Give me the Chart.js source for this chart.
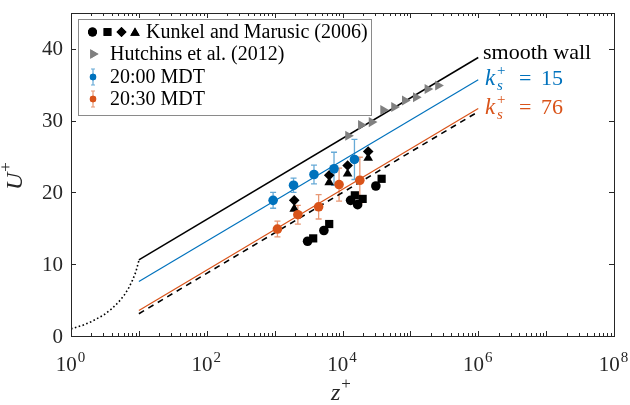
<!DOCTYPE html>
<html>
<head>
<meta charset="utf-8">
<script src="https://cdn.jsdelivr.net/npm/chart.js"></script>
<style>
  html, body { margin: 0; padding: 0; background: #fff; }
  canvas { display: block; }
</style>
</head>
<body>
<canvas id="profile" width="630" height="405"></canvas>
<script>
// log-law reference lines (z+ endpoints, U+ values)
const zLog = [10, 1e6];
const uSmooth = [10.6, 38.8];
const uKs15 = [7.6, 35.7];
const uKs76 = [3.55, 31.7];
const uDashed = [3.1, 31.25];

// viscous / buffer region (dotted)
const zVisc = [1, 1.5, 2, 3, 4, 5, 6, 7, 8, 9, 10];
const uVisc = [1.0, 1.5, 2.0, 2.9, 3.8, 4.7, 5.6, 6.6, 7.7, 8.9, 10.5];

// field data with error bars
const zBlue = [950, 1900, 3800, 7500, 15000];
const uBlue = [18.9, 21.0, 22.5, 23.3, 24.6];
const eBlue = [1.1, 1.0, 1.3, 2.3, 2.8];
const zOrange = [1100, 2200, 4450, 8900, 18000];
const uOrange = [14.9, 16.9, 18.0, 21.1, 21.7];
const eOrange = [1.1, 1.3, 1.7, 2.3, 3.2];

// Kunkel and Marusic (2006)
const zKmCirc = [3060, 5320, 13150, 16700, 31000];
const uKmCirc = [13.2, 14.7, 18.9, 18.3, 20.9];
const zKmSq = [3700, 6370, 15200, 19800, 37700];
const uKmSq = [13.6, 15.6, 19.6, 19.1, 21.9];
const zKmDia = [1945, 6370, 11900, 23900];
const uKmDia = [18.9, 22.4, 23.75, 25.7];
const zKmTri = [1945, 6370, 11900, 23900];
const uKmTri = [17.7, 21.4, 22.6, 24.8];

// Hutchins et al. (2012)
const zHut = [12100, 18700, 26900, 39800, 57700, 83000, 120500, 179000, 256000];
const uHut = [27.9, 29.4, 29.8, 31.5, 31.9, 32.8, 33.25, 34.4, 34.9];

const xTickExp = [0, 2, 4, 6, 8];
const yTicks = [0, 10, 20, 30, 40];

const BLUE = '#0072BD';
const ORANGE = '#D95319';
const AXIS = '#262626';
const SERIF = '"Liberation Serif", "Times New Roman", serif';

function pts(xs, ys) {
    return xs.map((x, i) => ({ x: x, y: ys[i] }));
}

function lineSet(xs, ys, color, width, dash) {
    return {
        data: pts(xs, ys), showLine: true, borderColor: color, borderWidth: width,
        borderDash: dash || [], pointRadius: 0, fill: false
    };
}

function markSet(xs, ys, style, color, r, rot) {
    return {
        data: pts(xs, ys), showLine: false, pointStyle: style, pointRadius: r,
        pointRotation: rot || 0, backgroundColor: color, borderColor: color, borderWidth: 0
    };
}

// error bars, drawn under the markers
const errorBars = {
    id: 'errorBars',
    beforeDatasetsDraw(chart) {
        const c = chart.ctx, xs = chart.scales.x, ys = chart.scales.y;
        const groups = [[zBlue, uBlue, eBlue, 'rgba(0,114,189,0.6)'],
                        [zOrange, uOrange, eOrange, 'rgba(217,83,25,0.6)']];
        c.save();
        c.lineWidth = 1.3;
        groups.forEach(g => {
            c.strokeStyle = g[3];
            g[0].forEach((z, i) => {
                const px = xs.getPixelForValue(z);
                const top = ys.getPixelForValue(g[1][i] + g[2][i]);
                const bot = ys.getPixelForValue(g[1][i] - g[2][i]);
                c.beginPath();
                c.moveTo(px, top); c.lineTo(px, bot);
                c.moveTo(px - 3, top); c.lineTo(px + 3, top);
                c.moveTo(px - 3, bot); c.lineTo(px + 3, bot);
                c.stroke();
            });
        });
        c.restore();
    }
};

function supText(c, base, sup, x, y, size, italic) {
    c.font = (italic ? 'italic ' : '') + size + 'px ' + SERIF;
    c.textAlign = 'left';
    c.textBaseline = 'alphabetic';
    c.fillText(base, x, y);
    const w = c.measureText(base).width;
    c.font = Math.round(size * 0.7) + 'px ' + SERIF;
    c.fillText(sup, x + w + 1, y - size * 0.45);
}

// frame, ticks, labels, legend, annotations
const decor = {
    id: 'decor',
    afterDraw(chart) {
        const c = chart.ctx, xs = chart.scales.x, ys = chart.scales.y;
        const a = chart.chartArea;
        c.save();
        c.strokeStyle = AXIS;
        c.fillStyle = AXIS;
        c.lineWidth = 1;

        // ticks
        c.beginPath();
        for (let k = 0; k <= 8; k++) {
            for (let m = 1; m <= 9; m++) {
                const v = m * Math.pow(10, k);
                if (v > 1e8) break;
                const px = Math.round(xs.getPixelForValue(v)) + 0.5;
                const len = m === 1 ? 5 : 3;
                c.moveTo(px, a.bottom); c.lineTo(px, a.bottom - len);
                c.moveTo(px, a.top); c.lineTo(px, a.top + len);
            }
        }
        yTicks.forEach(v => {
            const py = Math.round(ys.getPixelForValue(v)) + 0.5;
            c.moveTo(a.left, py); c.lineTo(a.left + 5, py);
            c.moveTo(a.right, py); c.lineTo(a.right - 5, py);
        });
        c.stroke();
        c.strokeRect(Math.round(a.left) + 0.5, Math.round(a.top) + 0.5,
                     Math.round(a.right - a.left), Math.round(a.bottom - a.top));

        // y tick labels
        c.font = '21px ' + SERIF;
        c.textAlign = 'right';
        c.textBaseline = 'middle';
        yTicks.forEach(v => c.fillText(String(v), a.left - 8, ys.getPixelForValue(v) + 1));

        // x tick labels 10^n
        xTickExp.forEach(n => {
            const px = xs.getPixelForValue(Math.pow(10, n));
            c.font = '21px ' + SERIF;
            const w = c.measureText('10').width;
            c.font = '15px ' + SERIF;
            const we = c.measureText(String(n)).width;
            const x0 = px - (w + we) / 2 - 1;
            c.font = '21px ' + SERIF;
            c.textAlign = 'left';
            c.textBaseline = 'alphabetic';
            c.fillText('10', x0, 371);
            c.font = '15px ' + SERIF;
            c.fillText(String(n), x0 + w + 1, 362);
        });

        // axis titles
        supText(c, 'z', '+', 331, 400, 24, true);
        c.save();
        c.translate(22, 181);
        c.rotate(-Math.PI / 2);
        supText(c, 'U', '+', -9, 0, 24, true);
        c.restore();

        // right-hand annotations
        c.fillStyle = '#000';
        c.font = '22px ' + SERIF;
        c.textAlign = 'left';
        c.textBaseline = 'alphabetic';
        c.fillText('smooth wall', 483, 59);
        [[BLUE, '15', 85], [ORANGE, '76', 114]].forEach(r => {
            c.fillStyle = r[0];
            c.font = 'italic 23px ' + SERIF;
            c.fillText('k', 485, r[2]);
            c.font = '15px ' + SERIF;
            c.fillText('+', 497, r[2] - 10);
            c.font = 'italic 15px ' + SERIF;
            c.fillText('s', 497, r[2] + 5);
            c.font = '22px ' + SERIF;
            c.fillText('=', 519, r[2]);
            c.fillText(r[1], 541, r[2]);
        });

        // legend
        c.fillStyle = '#fff';
        c.fillRect(78, 19, 293, 96);
        c.strokeStyle = '#8a8a8a';
        c.strokeRect(78.5, 19.5, 293, 96);
        const H = Chart.helpers;
        const mk = (style, x, y, r, color, rot) => {
            c.fillStyle = color; c.strokeStyle = color; c.lineWidth = 0;
            H.drawPoint(c, { pointStyle: style, radius: r, rotation: rot || 0, borderWidth: 0 }, x, y);
            c.fill();
        };
        mk('circle', 92.5, 32, 4.5, '#000');
        mk('rect', 107.5, 32, 5.5, '#000');
        mk('rectRot', 121.5, 32, 5, '#000');
        mk('triangle', 135, 33, 5.5, '#000');
        mk('triangle', 93, 54, 5.5, '#808080', 90);
        [[BLUE, 'rgba(0,114,189,0.6)', 77], [ORANGE, 'rgba(217,83,25,0.6)', 99]].forEach(r => {
            c.strokeStyle = r[1]; c.lineWidth = 1.2;
            c.beginPath();
            c.moveTo(93, r[2] - 8); c.lineTo(93, r[2] + 8);
            c.moveTo(91, r[2] - 8); c.lineTo(95, r[2] - 8);
            c.moveTo(91, r[2] + 8); c.lineTo(95, r[2] + 8);
            c.stroke();
            mk('circle', 93, r[2], 3.2, r[0]);
        });
        c.fillStyle = '#000';
        c.font = '20px ' + SERIF;
        c.textAlign = 'left';
        c.textBaseline = 'middle';
        c.fillText('Kunkel and Marusic (2006)', 146, 33);
        c.fillText('Hutchins et al. (2012)', 110, 55);
        c.fillText('20:00 MDT', 110, 78);
        c.fillText('20:30 MDT', 110, 100);
        c.restore();
    }
};

window.onload = function () {
    const ctx = document.getElementById('profile').getContext('2d');
    new Chart(ctx, {
        type: 'scatter',
        data: {
            datasets: [
                markSet(zBlue, uBlue, 'circle', BLUE, 4.8),
                markSet(zOrange, uOrange, 'circle', ORANGE, 4.8),
                markSet(zKmCirc, uKmCirc, 'circle', '#000', 4.8),
                markSet(zKmSq, uKmSq, 'rect', '#000', 5.8),
                markSet(zKmDia, uKmDia, 'rectRot', '#000', 5.3),
                markSet(zKmTri, uKmTri, 'triangle', '#000', 5.6),
                markSet(zHut, uHut, 'triangle', '#808080', 5.8, 90),
                lineSet(zLog, uSmooth, '#000', 1.5),
                lineSet(zLog, uKs15, BLUE, 1.2),
                lineSet(zLog, uKs76, ORANGE, 1.2),
                lineSet(zLog, uDashed, '#000', 1.6, [6, 5]),
                lineSet(zVisc, uVisc, '#000', 1.6, [1.6, 2.4])
            ]
        },
        options: {
            responsive: false,
            devicePixelRatio: 1,
            animation: false,
            layout: { padding: { left: 71, right: 16, top: 13, bottom: 69 } },
            scales: {
                x: { type: 'logarithmic', min: 1, max: 1e8, display: false },
                y: { type: 'linear', min: 0, max: 45, display: false }
            },
            plugins: {
                legend: { display: false },
                tooltip: { enabled: false }
            }
        },
        plugins: [errorBars, decor]
    });
};
</script>
</body>
</html>
